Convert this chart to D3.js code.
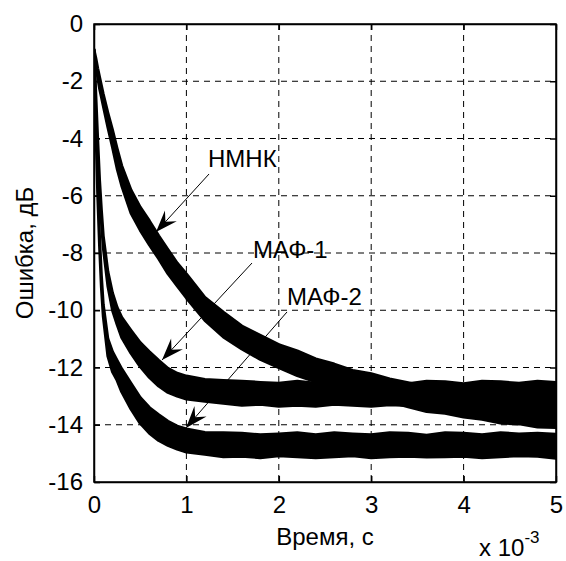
<!DOCTYPE html>
<html>
<head>
<meta charset="utf-8">
<script src="https://cdn.jsdelivr.net/npm/d3@7"></script>
<style>
    body { margin: 0; background: #fff; }
    svg text { font-family: "Liberation Sans", Arial, sans-serif; font-size: 24px; fill: #000; }
    .grid line { stroke: #000; stroke-width: 1; stroke-dasharray: 6,5; }
    .axis path, .axis line { stroke: #000; stroke-width: 1.5; }
</style>
</head>
<body>
<svg id="chart" width="566" height="561"></svg>
<script>
// ------------------ DATA ------------------

// time, x 10^-3 s
let timeMs = [0, 0.02, 0.04, 0.06, 0.08, 0.1, 0.15, 0.2, 0.25, 0.3, 0.4, 0.5, 0.6, 0.7, 0.8, 0.9, 1.0,
    1.2, 1.4, 1.6, 1.8, 2.0, 2.2, 2.4, 2.6, 2.8, 3.0, 3.2, 3.4, 3.6, 3.8, 4.0, 4.2, 4.4, 4.6, 4.8, 5.0];

// НМНК: middle of the noisy band and its half thickness, dB
let nlmsMean = [-1.0, -1.35, -1.7, -2.05, -2.35, -2.65, -3.35, -4.0, -4.7, -5.3, -6.2, -6.8, -7.3, -7.8, -8.3, -8.75, -9.15,
    -9.95, -10.5, -10.95, -11.3, -11.6, -11.85, -12.1, -12.3, -12.5, -12.65, -12.8, -12.95, -13.1, -13.2, -13.3, -13.4, -13.5, -13.55, -13.65, -13.7];
let nlmsSpread = [0.1, 0.15, 0.15, 0.2, 0.2, 0.2, 0.25, 0.3, 0.35, 0.35, 0.4, 0.4, 0.42, 0.4, 0.42, 0.4, 0.42,
    0.4, 0.43, 0.4, 0.42, 0.4, 0.43, 0.4, 0.42, 0.4, 0.43, 0.4, 0.42, 0.44, 0.4, 0.43, 0.41, 0.44, 0.42, 0.43, 0.4];

// МАФ-1
let maf1Mean = [-1.0, -2.6, -4.2, -5.6, -6.7, -7.6, -8.9, -9.7, -10.2, -10.6, -11.1, -11.55, -11.9, -12.2, -12.45, -12.6, -12.7,
    -12.8, -12.85, -12.9, -12.9, -12.95, -12.9, -12.95, -12.9, -12.9, -12.95, -12.9, -12.95, -12.9, -12.9, -12.95, -12.9, -12.9, -12.95, -12.9, -12.9];
let maf1Spread = [0.1, 0.1, 0.15, 0.15, 0.2, 0.2, 0.25, 0.3, 0.3, 0.35, 0.4, 0.42, 0.45, 0.45, 0.42, 0.4, 0.4,
    0.38, 0.4, 0.42, 0.38, 0.4, 0.42, 0.4, 0.38, 0.42, 0.4, 0.4, 0.38, 0.42, 0.4, 0.38, 0.42, 0.4, 0.4, 0.42, 0.38];

// МАФ-2
let maf2Mean = [-1.0, -3.5, -5.8, -7.6, -9.0, -10.0, -11.3, -11.8, -12.1, -12.45, -13.0, -13.5, -13.85, -14.1, -14.3, -14.45, -14.55,
    -14.65, -14.7, -14.7, -14.75, -14.7, -14.7, -14.75, -14.7, -14.7, -14.75, -14.7, -14.7, -14.75, -14.7, -14.7, -14.75, -14.7, -14.7, -14.7, -14.75];
let maf2Spread = [0.1, 0.1, 0.15, 0.15, 0.2, 0.2, 0.3, 0.35, 0.35, 0.4, 0.45, 0.45, 0.45, 0.45, 0.42, 0.4, 0.4,
    0.38, 0.42, 0.4, 0.4, 0.38, 0.42, 0.4, 0.42, 0.38, 0.4, 0.42, 0.4, 0.38, 0.42, 0.4, 0.4, 0.42, 0.38, 0.4, 0.42];

let xTicks = [0, 1, 2, 3, 4, 5];
let yTicks = [0, -2, -4, -6, -8, -10, -12, -14, -16];

// labels with arrows: text corner and arrow ends in data units
let labelNames = ["НМНК", "МАФ-1", "МАФ-2"];
let labelAt = [[1.234, -5.0], [1.72, -8.17], [2.089, -9.82]];
let arrowFrom = [[1.245, -5.24], [1.71, -8.35], [2.089, -10.06]];
let arrowTo = [[0.671, -7.27], [0.736, -11.74], [0.996, -14.11]];

// ------------------ GLOBAL VARIABLES ------------------

let svg = d3.select("#chart");
let plotLeft = 94, plotRight = 556, plotTop = 24, plotBottom = 482;

let x = d3.scaleLinear().domain([0, 5]).range([plotLeft, plotRight]);
let y = d3.scaleLinear().domain([-16, 0]).range([plotBottom, plotTop]);

// ------------------ BUILDING CHART ------------------

function drawGrid() {
    let grid = svg.append("g").attr("class", "grid");

    grid.selectAll("line.v")
        .data(xTicks.filter((d) => d > 0 && d < 5))
        .enter().append("line")
        .attr("x1", (d) => x(d)).attr("x2", (d) => x(d))
        .attr("y1", plotTop).attr("y2", plotBottom);

    grid.selectAll("line.h")
        .data(yTicks.filter((d) => d < 0 && d > -16))
        .enter().append("line")
        .attr("x1", plotLeft).attr("x2", plotRight)
        .attr("y1", (d) => y(d)).attr("y2", (d) => y(d));
}

function drawBands() {
    svg.append("clipPath").attr("id", "plot-clip")
        .append("rect")
        .attr("x", plotLeft).attr("y", plotTop)
        .attr("width", plotRight - plotLeft).attr("height", plotBottom - plotTop);

    let series = [
        { mean: maf2Mean, spread: maf2Spread },
        { mean: maf1Mean, spread: maf1Spread },
        { mean: nlmsMean, spread: nlmsSpread }
    ];

    let band = d3.area()
        .x((d) => x(d.t))
        .y0((d) => y(d.m - d.s))
        .y1((d) => y(d.m + d.s));

    let g = svg.append("g").attr("clip-path", "url(#plot-clip)");

    for (let i = 0; i < series.length; i++) {
        let rows = timeMs.map((t, k) => ({ t: t, m: series[i].mean[k], s: series[i].spread[k] }));
        g.append("path")
            .datum(rows)
            .attr("d", band)
            .attr("fill", "#000")
            .attr("stroke", "#000")
            .attr("stroke-width", 3)
            .attr("stroke-linejoin", "round");
    }
}

function drawAxes() {
    let bottomAxis = d3.axisBottom(x).tickValues(xTicks).tickSizeInner(-6).tickSizeOuter(0).tickPadding(14).tickFormat(d3.format("d"));
    let leftAxis = d3.axisLeft(y).tickValues(yTicks).tickSizeInner(-6).tickSizeOuter(0).tickPadding(11).tickFormat((d) => d3.format("d")(d).replace("−", "-"));
    let topAxis = d3.axisTop(x).tickValues(xTicks).tickSizeInner(-6).tickSizeOuter(0).tickFormat("");
    let rightAxis = d3.axisRight(y).tickValues(yTicks).tickSizeInner(-6).tickSizeOuter(0).tickFormat("");

    svg.append("g").attr("class", "axis").attr("transform", "translate(0," + plotBottom + ")").call(bottomAxis);
    svg.append("g").attr("class", "axis").attr("transform", "translate(" + plotLeft + ",0)").call(leftAxis);
    svg.append("g").attr("class", "axis").attr("transform", "translate(0," + plotTop + ")").call(topAxis);
    svg.append("g").attr("class", "axis").attr("transform", "translate(" + plotRight + ",0)").call(rightAxis);

    svg.selectAll(".axis").attr("font-size", null).attr("font-family", null);

    // box
    svg.append("rect")
        .attr("x", plotLeft).attr("y", plotTop)
        .attr("width", plotRight - plotLeft).attr("height", plotBottom - plotTop)
        .attr("fill", "none").attr("stroke", "#000").attr("stroke-width", 1.5);

    svg.append("text")
        .attr("x", (plotLeft + plotRight) / 2).attr("y", 545)
        .attr("text-anchor", "middle")
        .text("Время, с");

    svg.append("text")
        .attr("transform", "translate(33," + (plotTop + plotBottom) / 2 + ") rotate(-90)")
        .attr("text-anchor", "middle")
        .text("Ошибка, дБ");

    let mult = svg.append("text").attr("x", 479).attr("y", 556);
    mult.append("tspan").text("x 10");
    mult.append("tspan").attr("dy", -13).attr("font-size", 17).text("-3");
}

function drawLabels() {
    for (let i = 0; i < labelNames.length; i++) {
        svg.append("text")
            .attr("x", x(labelAt[i][0])).attr("y", y(labelAt[i][1]))
            .text(labelNames[i]);

        let x1 = x(arrowFrom[i][0]), y1 = y(arrowFrom[i][1]);
        let x2 = x(arrowTo[i][0]), y2 = y(arrowTo[i][1]);

        svg.append("line")
            .attr("x1", x1).attr("y1", y1).attr("x2", x2).attr("y2", y2)
            .attr("stroke", "#000").attr("stroke-width", 1);

        // arrow head pointing at the band
        let len = Math.hypot(x2 - x1, y2 - y1);
        let ux = (x2 - x1) / len, uy = (y2 - y1) / len;
        let headLen = 22, headHalf = 8, notch = 14;
        let head = [
            [x2, y2],
            [x2 - ux * headLen - uy * headHalf, y2 - uy * headLen + ux * headHalf],
            [x2 - ux * notch, y2 - uy * notch],
            [x2 - ux * headLen + uy * headHalf, y2 - uy * headLen - ux * headHalf]
        ];
        svg.append("path")
            .attr("d", "M" + head.map((p) => p.join(",")).join("L") + "Z")
            .attr("fill", "#000");
    }
}

drawGrid();
drawBands();
drawAxes();
drawLabels();
</script>
</body>
</html>
